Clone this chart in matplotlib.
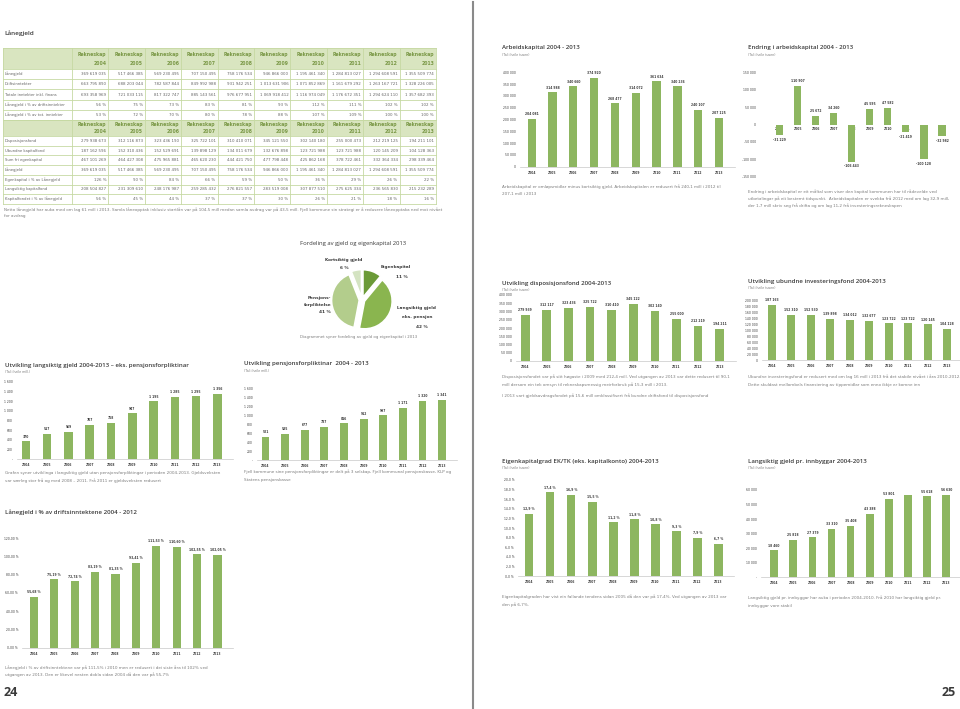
import matplotlib
matplotlib.use('Agg')
import matplotlib.pyplot as plt
from matplotlib import font_manager as fm
from matplotlib.patches import Rectangle

W, H = 960, 709
GREEN = '#8db660'
DARK = '#3a3a3a'
GREY = '#7d7d7d'
HEAD_BG = '#d9e5c0'
HEAD_TXT = '#7a9846'
LINE = '#c6d9a3'
SANS = ['Open Sans', 'DejaVu Sans']


def have(name):
    try:
        fm.findfont(fm.FontProperties(family=name), fallback_to_default=False)
        return True
    except ValueError:
        return False


# condensed body font; shrink the size when only a wide face is there
if have('Liberation Sans Narrow'):
    NARROW, S = ['Liberation Sans Narrow', 'DejaVu Sans'], 1.0
elif have('DejaVu Sans Condensed'):
    NARROW, S = ['DejaVu Sans Condensed', 'DejaVu Sans'], 0.93
else:
    NARROW, S = ['DejaVu Sans'], 0.84

years = [str(y) for y in range(2004, 2014)]

# Lånegjeld, tabell 1
tab1_rows = ['Lånegjeld', 'Driftsinntekter', 'Totale inntekter inkl. finans',
             'Lånegjeld i % av driftsinntekter', 'Lånegjeld i % av tot. inntekter']
tab1_vals = [
    ['369 619 035', '517 466 385', '569 230 495', '707 150 495', '758 176 534',
     '946 866 000', '1 195 461 340', '1 284 813 027', '1 294 608 591', '1 355 509 774'],
    ['663 795 890', '688 203 044', '782 587 844', '849 992 988', '931 942 251',
     '1 013 631 906', '1 071 852 869', '1 161 679 292', '1 263 167 721', '1 328 226 005'],
    ['693 358 969', '721 033 115', '817 322 747', '885 143 561', '976 677 951',
     '1 069 918 412', '1 116 974 049', '1 176 672 351', '1 294 624 110', '1 357 682 393'],
    ['56 %', '75 %', '73 %', '83 %', '81 %', '93 %', '112 %', '111 %', '102 %', '102 %'],
    ['53 %', '72 %', '70 %', '80 %', '78 %', '88 %', '107 %', '109 %', '100 %', '100 %'],
]

# tabell 2
tab2_rows = ['Disposisjonsfond', 'Ubundne kapitalfond', 'Sum fri egenkapital', 'Lånegjeld',
             'Egenkapital i % av Lånegjeld', 'Langsiktig kapitalfond', 'Kapitalfondet i % av lånegjeld']
tab2_vals = [
    ['279 938 673', '312 116 873', '323 436 190', '325 722 101', '310 410 071',
     '345 121 550', '302 140 180', '255 000 473', '212 219 125', '194 211 101'],
    ['187 162 596', '152 310 436', '152 529 691', '139 898 129', '134 011 679',
     '132 676 898', '123 721 988', '123 721 988', '120 145 209', '104 128 363'],
    ['467 101 269', '464 427 308', '475 965 881', '465 620 230', '444 421 750',
     '477 798 448', '425 862 168', '378 722 461', '332 364 334', '298 339 464'],
    ['369 619 035', '517 466 385', '569 230 495', '707 150 495', '758 176 534',
     '946 866 000', '1 195 461 340', '1 284 813 027', '1 294 608 591', '1 355 509 774'],
    ['126 %', '90 %', '84 %', '66 %', '59 %', '50 %', '36 %', '29 %', '26 %', '22 %'],
    ['208 504 827', '231 309 610', '248 176 987', '259 285 432', '276 821 557',
     '283 519 008', '307 877 510', '275 625 334', '236 565 830', '215 232 289'],
    ['56 %', '45 %', '44 %', '37 %', '37 %', '30 %', '26 %', '21 %', '18 %', '16 %'],
]

# pie 2013
pie_shares = [11, 42, 41, 6]
pie_colors = ['#6b9a37', '#8ab54f', '#b3cd8c', '#d4e3c2']

# bar series
arbeid = [204081, 314988, 340660, 374920, 268477, 314072, 361634, 340236, 240107, 207125]
endring = [-31229, 110907, 25672, 34260, -106443, 45595, 47582, -21419, -100128, -32982]
dispo = [279939, 312117, 323436, 325722, 310410, 345122, 302140, 255000, 212219, 194211]
ubundne = [187163, 152310, 152530, 139898, 134012, 132677, 123722, 123722, 120145, 104128]
eigen = [12.9, 17.4, 16.9, 15.5, 11.2, 11.8, 10.8, 9.3, 7.9, 6.7]
gjeld_innb = [18460, 25818, 27379, 33310, 35408, 43388, 53801, 56300, 55618, 56630]
gjeld_mill = [370, 517, 569, 707, 758, 947, 1195, 1285, 1295, 1356]
pensjon = [521, 585, 677, 737, 816, 912, 997, 1171, 1320, 1341]
gjeld_pct = [55.68, 75.19, 72.74, 83.19, 81.35, 93.41, 111.53, 110.60, 102.55, 102.05]


def thou(v):
    return f'{v:,}'.replace(',', ' ')


def thou_dash(v):
    return '-' if v == 0 else thou(v)


def pct1(v):
    return f'{v:.1f} %'.replace('.', ',')


def pct2(v):
    return f'{v:.2f} %'.replace('.', ',')


fig = plt.figure(figsize=(9.6, 7.09), dpi=100)
page = fig.add_axes([0, 0, 1, 1])
page.set_xlim(0, W)
page.set_ylim(H, 0)
page.axis('off')


def px_axes(l, t, r, b):
    return fig.add_axes([l / W, 1 - b / H, (r - l) / W, (b - t) / H])


def txt(x, y, s, size=3.5, color=GREY, family=None, **kw):
    if family is None:
        family, size = NARROW, size * S
    page.text(x, y, s, fontsize=size, color=color, family=family, va='center', **kw)


def heading(x, y, title, sub=None, caption=(), cap_y=(), size=4.4):
    txt(x, y, title, size=size, color=DARK, family=SANS, fontweight='semibold')
    if sub:
        txt(x, y + 7, sub, size=2.8)
    for line, cy in zip(caption, cap_y):
        txt(x, cy, line, size=3.5)


def bar_chart(c0, c9, xl, ytop, ybot, values, yticks, tickfmt, valfmt, skip=(), zero_axis=False):
    s = (c9 - c0) / 9
    left = xl + 4
    right = c9 + 0.75 * s
    ax = px_axes(left, ytop, right, ybot)
    if zero_axis:
        ax.spines['bottom'].set_position(('data', 0))
        ax.spines['bottom'].set_visible(False)
    x = list(range(len(values)))
    ax.bar(x, values, width=0.4, color=GREEN, zorder=2)
    ax.set_xlim(-(c0 - left) / s, 9.75)
    ax.set_ylim(yticks[0], yticks[-1])
    ax.set_yticks(yticks)
    ax.set_yticklabels([tickfmt(v) for v in yticks], fontsize=2.6 * S, color=DARK, family=NARROW)
    ax.set_xticks(x)
    ax.set_xticklabels(years, fontsize=2.6 * S, color=DARK, family=NARROW, fontweight='bold')
    ax.tick_params(length=0, pad=3)
    if zero_axis:
        ax.tick_params(axis='x', pad=1.5)
    for sp in ['top', 'right', 'left']:
        ax.spines[sp].set_visible(False)
    ax.spines['bottom'].set_color('#c8c8c8')
    ax.spines['bottom'].set_linewidth(0.5)
    ax.patch.set_alpha(0)
    for i, v in enumerate(values):
        if i in skip:
            continue
        off = 2 if v >= 0 else -2
        ax.annotate(valfmt(v), (i, v), xytext=(0, off), textcoords='offset points',
                    ha='center', va='bottom' if v >= 0 else 'top',
                    fontsize=2.6 * S, color=DARK, family=NARROW, fontweight='bold')
    return ax


# ---------- left page: table ----------
txt(4, 33, 'Lånegjeld', size=4.6, color=DARK, family=SANS, fontweight='semibold')


def draw_table(top, head_h, row_h, rows, vals):
    edges = [3, 72] + [72 + 36.4 * (k + 1) for k in range(10)]
    page.add_patch(Rectangle((3, top), 433, head_h, facecolor=HEAD_BG, edgecolor='none'))
    for k, yr in enumerate(years):
        xr = edges[k + 2] - 2
        txt(xr, top + head_h * 0.3, 'Rekneskap', size=4.0, color=HEAD_TXT, ha='right', fontweight='bold')
        txt(xr, top + head_h * 0.72, yr, size=4.0, color=HEAD_TXT, ha='right', fontweight='bold')
    y = top + head_h
    for name, row in zip(rows, vals):
        txt(5, y + row_h / 2, name, size=3.2, color='#666666')
        for k, v in enumerate(row):
            txt(edges[k + 2] - 2, y + row_h / 2, v, size=3.4, color='#666666', ha='right')
        y += row_h
    for xe in edges:
        page.plot([xe, xe], [top, y], color=LINE, lw=0.6)
    page.plot([3, 436], [top, top], color=LINE, lw=0.6)
    for k in range(len(rows) + 1):
        yy = top + head_h + k * row_h
        page.plot([3, 436], [yy, yy], color=LINE, lw=0.6)
    return y


bottom1 = draw_table(48, 21, 10.2, tab1_rows, tab1_vals)
bottom2 = draw_table(bottom1, 16, 9.7, tab2_rows, tab2_vals)

txt(4, bottom2 + 6, 'Netto lånegjeld har auka med om lag 61 mill i 2013. Samla låneopptak inklusiv startlån var på 104,5 mill '
    'medan samla avdrag var på 43,5 mill. Fjell kommune sin strategi er å redusere låneopptaka ned mot nivået')
txt(4, bottom2 + 12.5, 'for avdrag')

# ---------- pie ----------
txt(300, 243, 'Fordeling av gjeld og eigenkapital 2013', size=4.2, color=DARK, family=SANS)
pax = px_axes(326, 264, 398, 336)
pax.pie(pie_shares, colors=pie_colors, startangle=90, counterclock=False,
        explode=[0.1] * 4, wedgeprops=dict(edgecolor='white', linewidth=1.2))
pax.set_xlim(-1.3, 1.3)
pax.set_ylim(-1.3, 1.3)
pax.set_aspect('equal')
lab = dict(size=3.6, color=DARK, fontweight='bold')
txt(344, 260, 'Kortsiktig gjeld', ha='center', **lab)
txt(344, 268, f'{pie_shares[3]} %', ha='center', **lab)
txt(381, 267, 'Eigenkapital', **lab)
txt(408, 277, f'{pie_shares[0]} %', ha='right', **lab)
txt(331, 298, 'Pensjons-', ha='right', **lab)
txt(331, 305, 'forpliktelse', ha='right', **lab)
txt(331, 312, f'{pie_shares[2]} %', ha='right', **lab)
txt(397, 308, 'Langsiktig gjeld', **lab)
txt(402, 317, 'eks. pensjon', **lab)
txt(428, 327, f'{pie_shares[1]} %', ha='right', **lab)
txt(300, 337, 'Diagrammet syner fordeling av gjeld og eigenkapital i 2013', size=3.3)

# ---------- left page charts ----------
heading(5, 365, 'Utvikling langsiktig gjeld 2004-2013 – eks. pensjonsforpliktinar', '(Tal i heile mill.)',
        ['Grafen syner utviklinga i langsiktig gjeld utan pensjonsforpliktingar i perioden 2004-2013. Gjeldsveksten',
         'var særleg stor frå og med 2008 – 2011. Frå 2011 er gjeldsveksten redusert'], [473, 481])
bar_chart(25.8, 217.5, 12.7, 381.7, 459.3, gjeld_mill, list(range(0, 1601, 200)), thou_dash, thou)

heading(244, 364, 'Utvikling pensjonsforpliktinar  2004 - 2013', '(Tal i heile mill.)',
        ['Fjell kommune sine pensjonsforpliktingar er delt på 3 selskap, Fjell kommunal pensjonskasse, KLP og',
         'Statens pensjonskasse'], [472, 480])
bar_chart(265.5, 442.2, 253.3, 388.3, 460, pensjon, list(range(0, 1601, 200)), thou_dash, thou)

heading(5, 512, 'Lånegjeld i % av driftsinntektene 2004 - 2012', None,
        ['Lånegjeld i % av driftsinntektene var på 111,5% i 2010 men er redusert i dei siste åra til 102% ved',
         'utgangen av 2013. Den er likevel nesten dobla sidan 2004 då den var på 55,7%'], [668, 675])
bar_chart(33.8, 217.5, 18.3, 538.3, 647.7, gjeld_pct, list(range(0, 121, 20)), pct2, pct2)

# ---------- right page charts ----------
heading(502, 48, 'Arbeidskapital 2004 - 2013', '(Tal i heile tusen)',
        ['Arbeidskapital er omløpsmidlar minus kortsiktig gjeld. Arbeidskapitalen er redusert frå 240,1 mill i 2012 til',
         '207,1 mill i 2013'], [187, 194])
bar_chart(531.7, 719, 515.7, 72.3, 166.7, arbeid, list(range(0, 400001, 50000)), thou, thou)

heading(748, 48, 'Endring i arbeidskapital 2004 - 2013', '(Tal i heile tusen)',
        ['Endring i arbeidskapital er eit måltal som viser den kapital kommunen har til rådevelde ved',
         'utbetalingar på eit bestemt tidspunkt.  Arbeidskapitalen er svekka frå 2012 med om lag 32,9 mill,',
         'der 1,7 mill skriv seg frå drifta og om lag 11,2 frå investeringsrekneskapen'], [192, 199, 206])
bar_chart(779.5, 942, 756, 72.3, 176.7, endring, list(range(-150000, 150001, 50000)), thou, thou,
          zero_axis=True)

heading(502, 283, 'Utvikling disposisjonsfond 2004-2013', '(Tal i heile tusen)',
        ['Disposisjonsfondet var på sitt høgaste i 2009 med 212,4 mill. Ved utgangen av 2013 var dette redusert til 90,1',
         'mill dersom ein tek omsyn til rekneskapsmessig meirforbruk på 15,3 mill i 2013.',
         'I 2013 vart gjeldsavdragsfondet på 15,6 mill omklassifisert frå bundne driftsfond til disposisjonsfond'],
        [377, 385, 396])
bar_chart(525.2, 719.7, 511.7, 295, 361, dispo, list(range(0, 400001, 50000)), thou, thou)

heading(748, 281, 'Utvikling ubundne investeringsfond 2004-2013', '(Tal i heile tusen)',
        ['Ubundne investeringsfond er redusert med om lag 16 mill i 2013 frå det stabile nivået i åra 2010-2012.',
         'Dette skuldast mellombels finansiering av tippemidlar som enno ikkje er komne inn'], [377, 385])
bar_chart(771.7, 947.2, 757.7, 300.7, 360, ubundne, list(range(0, 200001, 20000)), thou, thou)

heading(502, 461, 'Eigenkapitalgrad EK/TK (eks. kapitalkonto) 2004-2013', '(Tal i heile tusen)',
        ['Eigenkapitalgraden har vist ein fallande tendens sidan 2005 då den var på 17,4%. Ved utgangen av 2013 var',
         'den på 6,7%.'], [597, 605])
bar_chart(529.2, 718.5, 514.3, 480, 576, eigen, list(range(0, 21, 2)), pct1, pct1)

heading(748, 461, 'Langsiktig gjeld pr. innbyggar 2004-2013', '(Tal i heile tusen)',
        ['Langsiktig gjeld pr. innbyggar har auka i perioden 2004-2010. Frå 2010 har langsiktig gjeld pr.',
         'innbyggar vore stabil'], [598, 606])
bar_chart(774.2, 946.2, 756.7, 490, 577.3, gjeld_innb, list(range(0, 60001, 10000)), thou_dash, thou,
          skip=(7,))

# gutter line and page numbers
page.plot([473, 473], [2, H], color='#8a8a8a', lw=1.5)
txt(4, 693, '24', size=9, color=DARK, family=SANS, fontweight='bold')
txt(956, 693, '25', size=9, color=DARK, family=SANS, fontweight='bold', ha='right')

fig.savefig('out.png', dpi=100, facecolor='white')
